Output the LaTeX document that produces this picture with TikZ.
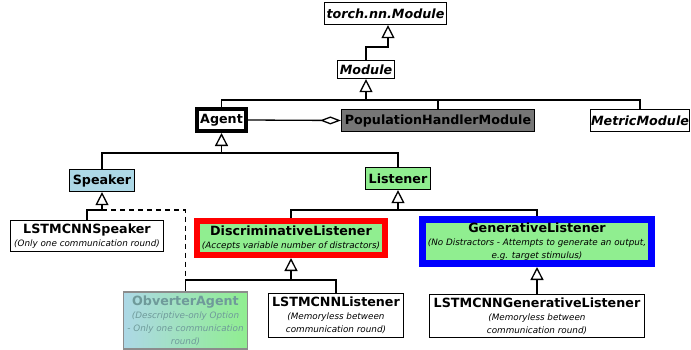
\documentclass[tikz,border=0pt]{standalone}
\usepackage{fontspec}
\setmainfont{DejaVu Sans}
\usetikzlibrary{arrows.meta, positioning}
\definecolor{speakerblue}{HTML}{ADD8E6}
\definecolor{listenergreen}{HTML}{90EE90}
\definecolor{handlergray}{HTML}{767676}
\definecolor{fadedtext}{HTML}{6F9A9A}
\newcommand*{\note}[1]{{\fontsize{8.8}{10.3}\selectfont\mdseries\itshape #1}}
\tikzstyle{class} = [
    draw,
    line width=1.2pt,
    rectangle,
    inner sep=0pt,
    align=center,
    fill=white,
    font=\fontsize{12.7}{13}\selectfont\bfseries
]
\tikzstyle{abstract} = [class, font=\fontsize{12.7}{13}\selectfont\bfseries\itshape]
\tikzstyle{link} = [line width=1.3pt]
\tikzstyle{extends} = [link, -{Triangle[open, length=13pt, width=13pt]}]
\tikzstyle{aggregates} = [link, -{Diamond[open, length=21pt, width=8pt]}]
\tikzstyle{realizes} = [link, dash pattern=on 5pt off 4pt]

\begin{document}
\begin{tikzpicture}[x=1pt, y=-1pt]
    \useasboundingbox (0, 0) rectangle (691, 349);

    % Nodes.
    \node (torch module) [abstract, minimum width=122pt, minimum height=22pt] at (385.5, 13.5) {torch.nn.Module};
    \node (module) [abstract, minimum width=57pt, minimum height=18pt] at (366, 69.5) {Module};

    \node (agent) [class, line width=4pt, minimum width=49pt, minimum height=22pt] at (221.5, 120) {Agent};
    \node (handler) [class, fill=handlergray, minimum width=193pt, minimum height=22pt] at (438, 120.5) {PopulationHandlerModule};
    \node (metric) [abstract, minimum width=99pt, minimum height=22pt] at (640, 120.5) {MetricModule};

    \node (speaker) [class, fill=speakerblue, minimum width=65pt, minimum height=22pt] at (102, 180.5) {Speaker};
    \node (listener) [class, fill=listenergreen, minimum width=65pt, minimum height=22pt] at (398, 178.5) {Listener};

    \node (lstm speaker) [class, minimum width=153pt, minimum height=31pt] at (87, 236)
        {LSTMCNNSpeaker\\\note{(Only one communication round)}};
    \node (disc listener) [class, draw=red, line width=6pt, fill=listenergreen, minimum width=188pt, minimum height=34pt] at (291, 238)
        {DiscriminativeListener\\\note{(Accepts variable number of distractors)}};
    \node (gen listener) [class, draw=blue, line width=7pt, fill=listenergreen, minimum width=229pt, minimum height=44pt] at (537, 241.5)
        {GenerativeListener\\\note{(No Distractors - Attempts to generate an output,}\\\note{e.g. target stimulus)}};

    \node (obverter) [class, draw=black!45, left color=speakerblue, right color=listenergreen, text=fadedtext, minimum width=124pt, minimum height=57pt] at (185.5, 320.5)
        {ObverterAgent\\\note{(Descriptive-only Option}\\\note{- Only one communication}\\\note{round)}};
    \node (lstm listener) [class, minimum width=135pt, minimum height=44pt] at (336, 315.5)
        {LSTMCNNListener\\\note{(Memoryless between}\\\note{communication round)}};
    \node (lstm gen) [class, minimum width=215pt, minimum height=43pt] at (537, 316)
        {LSTMCNNGenerativeListener\\\note{(Memoryless between}\\\note{communication round)}};

    \coordinate (module bus) at (366, 100);
    \coordinate (agent bus) at (221.5, 153);
    \coordinate (speaker bus) at (102, 210);
    \coordinate (listener bus) at (398, 210);
    \coordinate (disc bus) at (291, 280);
    \coordinate (obverter bus) at (185.5, 280);

    % Paths.
    \draw [extends] (module.north) -- ++(0, -13) -| ([xshift=2.5pt]torch module.south);

    \draw [link] (agent.north) |- (module bus) -| (metric.north);
    \draw [link] (handler.north) -- (handler.north |- module bus);
    \draw [extends] (module bus) -- (module.south);

    \draw [aggregates] (agent.east) -- (handler.west);

    \draw [link] (speaker.north) |- (agent bus) -| (listener.north);
    \draw [extends] (agent bus) -- (agent.south);

    \draw [extends] (lstm speaker.north) |- (speaker bus) -- (speaker.south);
    \draw [realizes] (speaker bus) -| (obverter bus);

    \draw [link] (disc listener.north) |- (listener bus) -| (gen listener.north);
    \draw [extends] (listener bus) -- (listener.south);

    \draw [link] (obverter.north) |- (disc bus) -| (lstm listener.north);
    \draw [extends] (disc bus) -- (disc listener.south);

    \draw [extends] (lstm gen.north) -- (gen listener.south);
\end{tikzpicture}
\end{document}
